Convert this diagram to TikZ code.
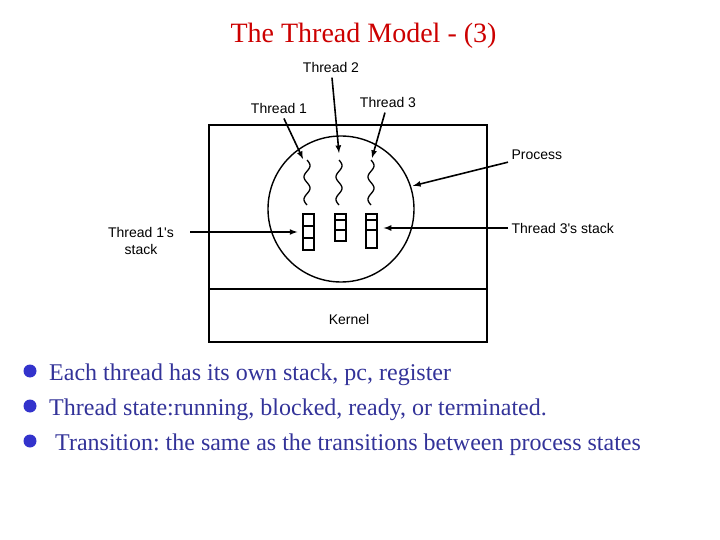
\documentclass[tikz,border=0pt]{standalone}
\usepackage{fontspec}
\setmainfont{Liberation Serif}
\newfontfamily\lblfont{Liberation Sans}
\usetikzlibrary{arrows}
\definecolor{titlered}{RGB}{204,0,0}
\definecolor{navy}{RGB}{51,51,153}
\definecolor{dotblue}{RGB}{51,51,204}
\frenchspacing

\begin{document}
\begin{tikzpicture}[x=1pt,y=-1pt,>=latex,
	lbl/.style={font=\lblfont\fontsize{14}{17}\selectfont},
	ptr/.style={->,line width=1.6pt},
	stk/.style={draw,line width=1.3pt,inner sep=0pt,minimum width=11pt}]
	\useasboundingbox (0,0) rectangle (720,540);
	\node[font=\fontsize{28}{32}\selectfont,text=titlered,anchor=base] (title) at (363.5,43) {The Thread Model - (3)};
	% address space and kernel
	\draw [line width=1.6pt] (209,125) rectangle (487,342);
	\draw [line width=1.6pt] (209,289) -- (487,289);
	\node[lbl] (kern) at (349,319) {Kernel};
	\node[draw,circle,line width=1.4pt,minimum size=146pt,inner sep=0pt] (proc) at (341,209) {};
	% threads
	\foreach \xx in {307,339,371}
		\draw [line width=1.3pt] plot[domain=0:45,samples=50,smooth] ({\xx+3*sin(\x*16)},{160+\x});
	\coordinate (sq1) at (303,159);
	\coordinate (sq2) at (339,153);
	\coordinate (sq3) at (372,158);
	% stacks
	\node[stk,minimum height=36pt] (stk1) at (308.5,232) {};
	\node[stk,minimum height=27pt] (stk2) at (340.5,227.5) {};
	\node[stk,minimum height=34pt] (stk3) at (371.5,231) {};
	\draw [line width=1.2pt] (303,226) -- (314,226) (303,238) -- (314,238);
	\draw [line width=2.2pt] (335,220) -- (346,220) (366,220) -- (377,220);
	\draw [line width=1.2pt] (335,230) -- (346,230) (366,230) -- (377,230);
	% labels
	\node[lbl] (thr1) at (279,108) {Thread 1};
	\node[lbl] (thr2) at (331,67) {Thread 2};
	\node[lbl] (thr3) at (388,102) {Thread 3};
	\node[lbl,anchor=west] (proclbl) at (508,155) {Process};
	\node[lbl,anchor=west] (stk3lbl) at (508,228) {Thread 3's stack};
	\node[lbl,align=center] (stk1lbl) at (141,241) {Thread 1's\\stack};
	\draw [ptr,shorten <=2pt] (thr1) -- (sq1);
	\draw [ptr,shorten <=2pt] (thr2) -- (sq2);
	\draw [ptr,shorten <=2pt] (thr3) -- (sq3);
	\draw [ptr,shorten >=2pt] (proclbl) -- (proc.18);
	\draw [ptr,shorten >=6pt] (stk3lbl.west) -- (stk3lbl.west -| stk3.east);
	\draw [ptr,shorten <=13pt,shorten >=5pt] (stk1lbl.east |- stk1.west) -- (stk1.west);
	% bullet list
	\foreach \yy/\xx/\txt [count=\i] in {380/49/{Each thread has its own stack, pc, register},
		415/49/{Thread state:running, blocked, ready, or terminated.},
		450/55/{Transition: the same as the transitions between process states}} {
		\node[circle,fill=dotblue,minimum size=13pt,inner sep=0pt] (dot\i) at (30,\yy-9) {};
		\node[anchor=base west,inner sep=0pt,text=navy,font=\fontsize{24}{28}\selectfont] (item\i) at (\xx,\yy) {\txt};
	}
\end{tikzpicture}
\end{document}
